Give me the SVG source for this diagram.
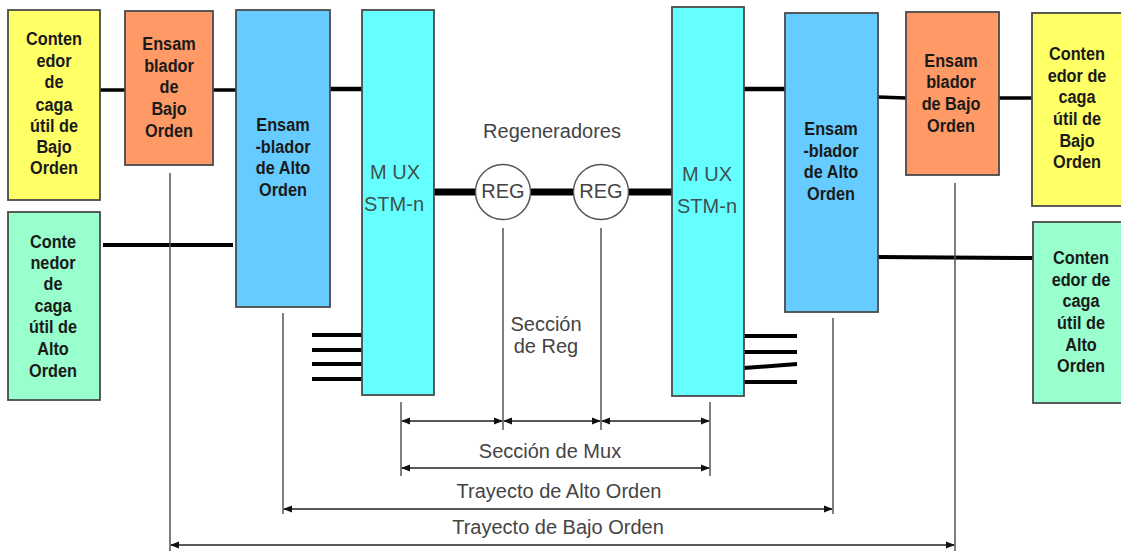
<svg xmlns="http://www.w3.org/2000/svg" width="1121" height="554" viewBox="0 0 1121 554">
<defs>
<style>
.box{stroke:#4a4a4a;stroke-width:1.8}
.lbl{font-family:"Liberation Sans",Arial,sans-serif;font-weight:bold;font-size:18.5px;fill:#1a1a1a;text-anchor:middle;dominant-baseline:middle}
.txt{font-family:"Liberation Sans",Arial,sans-serif;font-size:20px;fill:#444;text-anchor:middle;dominant-baseline:middle}
.mux{fill:#3d5252}
.bus{stroke:#000;fill:none}
.dim{stroke:#555;stroke-width:1.5;fill:none}
.arr{stroke:#222;stroke-width:1.5;fill:none;marker-start:url(#ah);marker-end:url(#ah)}
</style>
<marker id="ah" viewBox="0 0 10 10" refX="9" refY="5" markerWidth="9" markerHeight="9" markerUnits="userSpaceOnUse" orient="auto-start-reverse">
<path d="M0,1 L10,5 L0,9 z" fill="#111"/>
</marker>
</defs>
<rect width="1121" height="554" fill="#fff"/>

<g id="connectors">
<line class="bus" stroke-width="3.5" x1="100" y1="90" x2="125" y2="90"/>
<line class="bus" stroke-width="3.5" x1="213" y1="90" x2="236" y2="90"/>
<line class="bus" stroke-width="4.5" x1="330" y1="89" x2="362" y2="89"/>
<line class="bus" stroke-width="4" x1="103" y1="245" x2="233" y2="245"/>
<line class="bus" stroke-width="7" x1="434" y1="192" x2="476" y2="192"/>
<line class="bus" stroke-width="7" x1="531" y1="192" x2="574" y2="192"/>
<line class="bus" stroke-width="7" x1="629" y1="192" x2="672" y2="192"/>
<line class="bus" stroke-width="4.5" x1="744" y1="89" x2="785" y2="89"/>
<line class="bus" stroke-width="3.5" x1="878" y1="97" x2="906" y2="98"/>
<line class="bus" stroke-width="3.5" x1="999" y1="98" x2="1032" y2="98"/>
<line class="bus" stroke-width="4" x1="878" y1="257" x2="1033" y2="258"/>
<line class="bus" stroke-width="4" x1="312" y1="335" x2="362" y2="335"/>
<line class="bus" stroke-width="4" x1="312" y1="350" x2="362" y2="350"/>
<line class="bus" stroke-width="4" x1="312" y1="364" x2="362" y2="364"/>
<line class="bus" stroke-width="4" x1="312" y1="379" x2="362" y2="379"/>
<line class="bus" stroke-width="4" x1="744" y1="336" x2="797" y2="336"/>
<line class="bus" stroke-width="4" x1="744" y1="352" x2="797" y2="352"/>
<line class="bus" stroke-width="4" x1="744" y1="368" x2="797" y2="364"/>
<line class="bus" stroke-width="4" x1="744" y1="382" x2="797" y2="382"/>

<line class="dim" x1="170" y1="173" x2="170" y2="551"/>
<line class="dim" x1="283" y1="313" x2="283" y2="514"/>
<line class="dim" x1="401" y1="402" x2="401" y2="476"/>
<line class="dim" x1="503" y1="228" x2="503" y2="430"/>
<line class="dim" x1="601" y1="228" x2="601" y2="430"/>
<line class="dim" x1="710" y1="402" x2="710" y2="476"/>
<line class="dim" x1="833" y1="318" x2="833" y2="514"/>
<line class="dim" x1="955" y1="183" x2="955" y2="551"/>

<line class="arr" x1="402" y1="421" x2="502" y2="421"/>
<line class="arr" x1="504" y1="421" x2="600" y2="421"/>
<line class="arr" x1="602" y1="421" x2="709" y2="421"/>
<line class="arr" x1="402" y1="468" x2="709" y2="468"/>
<line class="arr" x1="284" y1="509" x2="832" y2="509"/>
<line class="arr" x1="171" y1="545" x2="954" y2="545"/>
</g>

<g id="cont-bajo-izq">
<rect class="box" x="8" y="10" width="92" height="190" fill="#ffff66"/>
<g transform="translate(54 0) scale(0.88 1)">
<text class="lbl" x="0" y="40">Conten</text>
<text class="lbl" x="0" y="62">edor</text>
<text class="lbl" x="0" y="83">de</text>
<text class="lbl" x="0" y="106">caga</text>
<text class="lbl" x="0" y="127">útil de</text>
<text class="lbl" x="0" y="148">Bajo</text>
<text class="lbl" x="0" y="169">Orden</text>
</g>
</g>

<g id="ens-bajo-izq">
<rect class="box" x="125" y="11" width="88" height="154" fill="#ff9966"/>
<g transform="translate(169 0) scale(0.88 1)">
<text class="lbl" x="0" y="45">Ensam</text>
<text class="lbl" x="0" y="67">blador</text>
<text class="lbl" x="0" y="88">de</text>
<text class="lbl" x="0" y="110">Bajo</text>
<text class="lbl" x="0" y="132">Orden</text>
</g>
</g>

<g id="ens-alto-izq">
<rect class="box" x="236" y="10" width="94" height="297" fill="#66ccff"/>
<g transform="translate(283 0) scale(0.88 1)">
<text class="lbl" x="0" y="126">Ensam</text>
<text class="lbl" x="0" y="148">-blador</text>
<text class="lbl" x="0" y="169">de Alto</text>
<text class="lbl" x="0" y="191">Orden</text>
</g>
</g>

<g id="mux-izq">
<rect class="box" x="362" y="10" width="72" height="385" fill="#66ffff"/>
<text class="txt mux" x="395" y="174">M UX</text>
<text class="txt mux" x="394" y="206">STM-n</text>
</g>

<g id="cont-alto-izq">
<rect class="box" x="8" y="212" width="92" height="188" fill="#99ffcc"/>
<g transform="translate(53 0) scale(0.88 1)">
<text class="lbl" x="0" y="243">Conte</text>
<text class="lbl" x="0" y="264">nedor</text>
<text class="lbl" x="0" y="285">de</text>
<text class="lbl" x="0" y="307">caga</text>
<text class="lbl" x="0" y="328">útil de</text>
<text class="lbl" x="0" y="350">Alto</text>
<text class="lbl" x="0" y="372">Orden</text>
</g>
</g>

<g id="regeneradores">
<text class="txt" x="552" y="133">Regeneradores</text>
</g>

<g id="reg1">
<circle cx="503" cy="192" r="27.5" fill="#fff" stroke="#555" stroke-width="1.5"/>
<text class="txt" x="503" y="193" font-size="21">REG</text>
</g>

<g id="reg2">
<circle cx="601" cy="192" r="27.5" fill="#fff" stroke="#555" stroke-width="1.5"/>
<text class="txt" x="601" y="193" font-size="21">REG</text>
</g>

<g id="mux-der">
<rect class="box" x="672" y="7" width="72" height="389" fill="#66ffff"/>
<text class="txt mux" x="707" y="176">M UX</text>
<text class="txt mux" x="707" y="208">STM-n</text>
</g>

<g id="ens-alto-der">
<rect class="box" x="785" y="13" width="93" height="299" fill="#66ccff"/>
<g transform="translate(831 0) scale(0.88 1)">
<text class="lbl" x="0" y="130">Ensam</text>
<text class="lbl" x="0" y="152">-blador</text>
<text class="lbl" x="0" y="173">de Alto</text>
<text class="lbl" x="0" y="195">Orden</text>
</g>
</g>

<g id="ens-bajo-der">
<rect class="box" x="906" y="12" width="93" height="163" fill="#ff9966"/>
<g transform="translate(951 0) scale(0.88 1)">
<text class="lbl" x="0" y="62">Ensam</text>
<text class="lbl" x="0" y="83">blador</text>
<text class="lbl" x="0" y="105">de Bajo</text>
<text class="lbl" x="0" y="127">Orden</text>
</g>
</g>

<g id="cont-bajo-der">
<rect class="box" x="1032" y="13" width="94" height="193" fill="#ffff66"/>
<g transform="translate(1077 0) scale(0.88 1)">
<text class="lbl" x="0" y="55">Conten</text>
<text class="lbl" x="0" y="77">edor de</text>
<text class="lbl" x="0" y="98">caga</text>
<text class="lbl" x="0" y="120">útil de</text>
<text class="lbl" x="0" y="142">Bajo</text>
<text class="lbl" x="0" y="163">Orden</text>
</g>
</g>

<g id="cont-alto-der">
<rect class="box" x="1033" y="222" width="94" height="181" fill="#99ffcc"/>
<g transform="translate(1081 0) scale(0.88 1)">
<text class="lbl" x="0" y="259">Conten</text>
<text class="lbl" x="0" y="281">edor de</text>
<text class="lbl" x="0" y="302">caga</text>
<text class="lbl" x="0" y="324">útil de</text>
<text class="lbl" x="0" y="346">Alto</text>
<text class="lbl" x="0" y="367">Orden</text>
</g>
</g>

<g id="labels">
<text class="txt" x="546" y="326">Sección</text>
<text class="txt" x="546" y="348">de Reg</text>
<text class="txt" x="550" y="453">Sección de Mux</text>
<text class="txt" x="559" y="493">Trayecto de Alto Orden</text>
<text class="txt" x="558" y="529">Trayecto de Bajo Orden</text>
</g>
</svg>
